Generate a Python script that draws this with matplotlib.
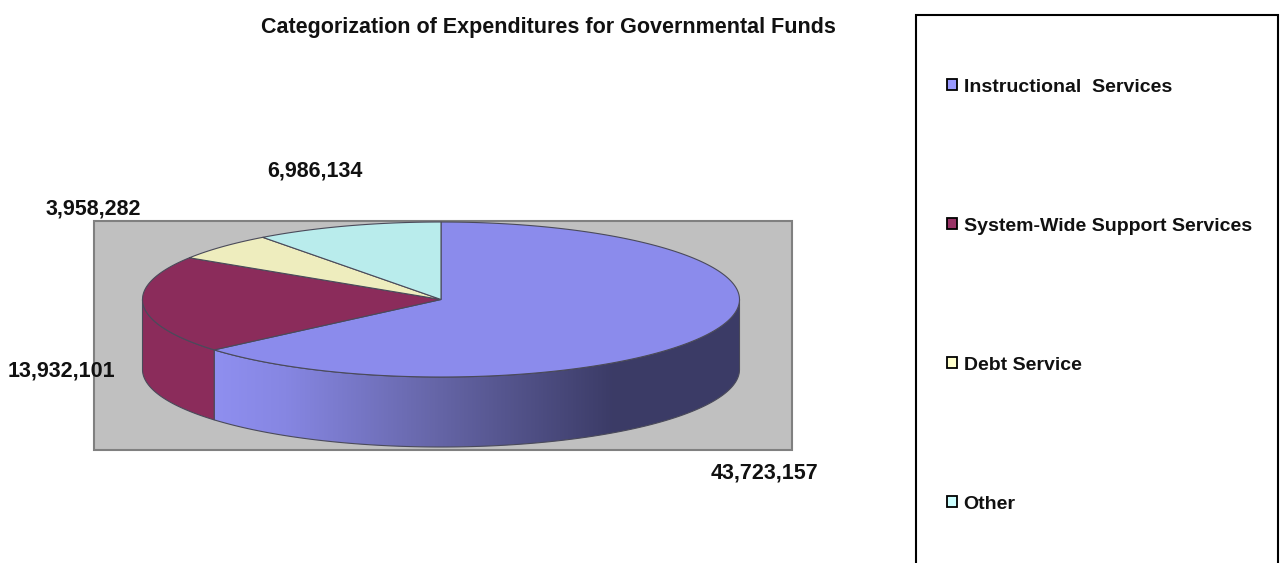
import numpy as np
import matplotlib
matplotlib.use("Agg")
import matplotlib.pyplot as plt
from matplotlib.colors import LinearSegmentedColormap
from matplotlib.patches import Patch, Polygon, Rectangle

plt.rcParams["font.family"] = ["Liberation Sans", "DejaVu Sans"]

# Expenditure data
categories = ["Instructional  Services", "System-Wide Support Services", "Debt Service", "Other"]
values = [43723157, 13932101, 3958282, 6986134]
value_labels = ["43,723,157", "13,932,101", "3,958,282", "6,986,134"]
title = "Categorization of Expenditures for Governmental Funds"

top_colors = ["#8B8BEC", "#8B2C5B", "#EEEDBE", "#B9ECEC"]
legend_colors = ["#9999FF", "#993366", "#FFFFCC", "#CCFFFF"]

W, H = 1281, 563
fig = plt.figure(figsize=(W / 100, H / 100), dpi=100, facecolor="white")
ax = fig.add_axes([0, 0, 1, 1])
ax.axis("off")

# Pie geometry in figure pixels
cx, cy, rx, ry, depth = 441.0, 299.5, 298.5, 77.5, 70.0


def rim(t0, t1, n=200, dy=0.0):
    """Points on the ellipse, angles measured clockwise from 12 o'clock."""
    t = np.radians(np.linspace(t0, t1, n))
    return np.column_stack([cx + rx * np.sin(t), cy + dy - ry * np.cos(t)])


# Plot background
ax.add_patch(Rectangle((93.5, 221), 698, 229, fc="#C0C0C0", ec="#808080", lw=1.5, zorder=1))

# Slice angles follow from the values
angles = np.cumsum([0] + list(values)) / sum(values) * 360.0
edge = "#4A4A5A"

# Side wall of the pie: only the part facing the viewer
for i in range(len(values)):
    a0, a1 = max(angles[i], 90), min(angles[i + 1], 270)
    if a0 >= a1:
        continue
    poly = np.vstack([rim(a0, a1), rim(a1, a0, dy=depth)])
    if i == 0:
        shade = LinearSegmentedColormap.from_list(
            "wall", [(0, "#8F8FF0"), (0.18, "#8686E2"), (0.55, "#6666A8"), (1, "#3B3B66")]
        )
        x0, x1 = float(poly[:, 0].min()), 615.0
        xs = np.linspace(0, 1, 256).reshape(1, -1)
        im = ax.imshow(xs, cmap=shade, extent=(x0, x1, 450, 250), aspect="auto", zorder=2)
        patch = Polygon(poly, closed=True, fc="none", ec="none", transform=ax.transData)
        ax.add_patch(patch)
        im.set_clip_path(patch)
        # Flat dark section beyond the end of the gradient
        a_end = 180 - np.degrees(np.arcsin((x1 - 1 - cx) / rx))
        dark = np.vstack([rim(90, a_end), rim(a_end, 90, dy=depth)])
        ax.add_patch(Polygon(dark, closed=True, fc="#3B3B66", ec="none", zorder=2.1))
        ax.add_patch(Polygon(poly, closed=True, fc="none", ec=edge, lw=0.8, zorder=2.2))
    else:
        ax.add_patch(Polygon(poly, closed=True, fc=top_colors[i], ec=edge, lw=0.8, zorder=2.2))

# Top face
for i in range(len(values)):
    pts = np.vstack([[cx, cy], rim(angles[i], angles[i + 1])])
    ax.add_patch(Polygon(pts, closed=True, fc=top_colors[i], ec=edge, lw=0.8, zorder=3))

ax.set_xlim(0, W)
ax.set_ylim(H, 0)

# Value labels
label_pos = [(764.5, 472.5), (61, 370.5), (93.5, 209.5), (314.5, 170.5)]
for (x, y), s in zip(label_pos, value_labels):
    ax.text(x, y, s, ha="center", va="center", fontsize=15.5, fontweight="bold", color="#111111", zorder=5)

ax.text(548.5, 27.5, title, ha="center", va="center", fontsize=15.5, fontweight="bold", color="#111111", zorder=5)

# Legend panel runs off the bottom of the figure
ax.add_patch(Rectangle((916, 14.5), 362, 600, fc="white", ec="black", lw=1.5, zorder=1))
handles = [Patch(fc=c, ec="black", lw=1.3) for c in legend_colors]
leg = ax.legend(
    handles, categories, loc="upper left", bbox_to_anchor=(941, 73), bbox_transform=ax.transData,
    frameon=False, prop={"size": 14, "weight": "bold"}, labelspacing=6.27,
    handlelength=0.5, handleheight=0.5, handletextpad=0.36, borderpad=0.3, borderaxespad=0,
)
for text in leg.get_texts():
    text.set_color("#111111")

fig.savefig("out.png", dpi=100, facecolor="white")
